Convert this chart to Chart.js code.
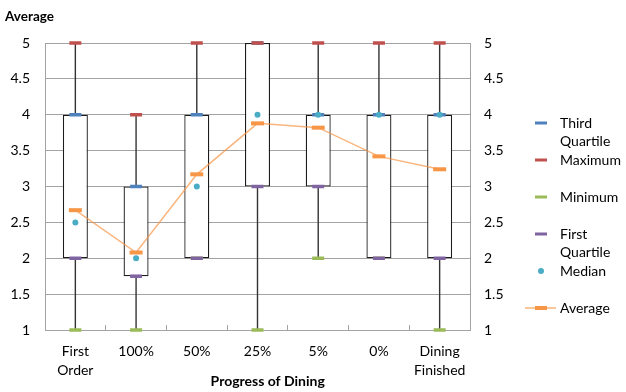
<!DOCTYPE html>
<html>
<head>
<meta charset="utf-8">
<script src="https://cdn.jsdelivr.net/npm/chart.js@4"></script>
<style>
  html, body { margin: 0; padding: 0; background: #fff; }
  #wrap { width: 626px; height: 392px; }
</style>
</head>
<body>
<div id="wrap"><canvas id="chart" width="626" height="392"></canvas></div>
<script>
// Stages of the meal and the rating summary for each stage
const categories = [['First', 'Order'], '100%', '50%', '25%', '5%', '0%', ['Dining', 'Finished']];
const thirdQuartile = [4, 3, 4, 5, 4, 4, 4];
const maximum = [5, 4, 5, 5, 5, 5, 5];
const minimum = [1, 1, 2, 1, 2, 2, 1];
const firstQuartile = [2, 1.75, 2, 3, 3, 2, 2];
const median = [2.5, 2, 3, 4, 4, 4, 4];
const average = [2.67, 2.08, 3.17, 3.88, 3.82, 3.42, 3.24];
const valueTicks = [1, 1.5, 2, 2.5, 3, 3.5, 4, 4.5, 5];

const FONT = 'Lato, "Open Sans", sans-serif';
const GRID = '#a3a3a3';
const COLORS = {
  q3: '#4F81BD', max: '#C0504D', min: '#9BBB59', q1: '#8064A2',
  median: '#4BACC6', average: '#F79646', averageLine: 'rgba(247,150,70,0.7)'
};

// Small legend swatches drawn on their own canvases
const ICON_W = 36, ICON_H = 10, ICON_CX = 21;
function icon(draw) {
  const c = document.createElement('canvas');
  c.width = ICON_W; c.height = ICON_H;
  draw(c.getContext('2d'));
  return c;
}
const dashIcon = color => icon(g => {
  g.fillStyle = color;
  g.fillRect(ICON_CX - 6, ICON_H / 2 - 1.5, 12, 3);
});
const dotIcon = color => icon(g => {
  g.fillStyle = color;
  g.beginPath(); g.arc(ICON_CX, ICON_H / 2, 3, 0, Math.PI * 2); g.fill();
});
const lineIcon = (lineColor, color) => icon(g => {
  g.strokeStyle = lineColor; g.lineWidth = 1.5;
  g.beginPath(); g.moveTo(5, ICON_H / 2); g.lineTo(ICON_W, ICON_H / 2); g.stroke();
  g.fillStyle = color;
  g.fillRect(ICON_CX - 6, ICON_H / 2 - 2, 12, 4);
});

const legendEntries = [
  { text: ['Third', 'Quartile'], icon: dashIcon(COLORS.q3) },
  { text: ['Maximum', ''], icon: dashIcon(COLORS.max) },
  { text: ['Minimum', ''], icon: dashIcon(COLORS.min) },
  { text: ['First', 'Quartile'], icon: dashIcon(COLORS.q1) },
  { text: ['Median', ''], icon: dotIcon(COLORS.median) },
  { text: ['Average', ''], icon: lineIcon(COLORS.averageLine, COLORS.average) }
];

function markerSeries(label, data, color, order) {
  return {
    type: 'line', label, data, order,
    clip: false,
    showLine: false,
    pointStyle: 'line',
    pointRadius: 6,
    pointBorderWidth: 3.5,
    pointBorderColor: color,
    pointBackgroundColor: color
  };
}

const tickFont = { family: FONT, size: 14, lineHeight: 1.38 };
const tickText = v => String(v);

new Chart(document.getElementById('chart'), {
  type: 'bar',
  data: {
    labels: categories,
    datasets: [
      // whisker from minimum to maximum
      {
        type: 'bar', label: 'Range',
        data: minimum.map((v, i) => [v, maximum[i]]),
        backgroundColor: '#333333',
        barThickness: 1.4,
        inflateAmount: 0,
        grouped: false,
        order: 20
      },
      // box from first to third quartile
      {
        type: 'bar', label: 'Box',
        data: firstQuartile.map((v, i) => [v, thirdQuartile[i]]),
        backgroundColor: '#ffffff',
        borderColor: '#1c1c1c',
        borderWidth: 1.3,
        borderSkipped: false,
        barThickness: 25,
        inflateAmount: 0,
        grouped: false,
        clip: false,
        order: 19
      },
      markerSeries('Third Quartile', thirdQuartile, COLORS.q3, 6),
      markerSeries('Maximum', maximum, COLORS.max, 5),
      markerSeries('Minimum', minimum, COLORS.min, 4),
      markerSeries('First Quartile', firstQuartile, COLORS.q1, 3),
      {
        type: 'line', label: 'Median', data: median, order: 2,
        clip: false,
        showLine: false,
        pointStyle: 'circle',
        pointRadius: 3,
        pointBorderWidth: 0,
        pointBackgroundColor: COLORS.median
      },
      {
        type: 'line', label: 'Average', data: average, order: 1,
        clip: false,
        borderColor: COLORS.averageLine,
        borderWidth: 1.5,
        tension: 0,
        pointStyle: 'line',
        pointRadius: 6.5,
        pointBorderWidth: 4,
        pointBorderColor: COLORS.average,
        pointBackgroundColor: COLORS.average
      }
    ]
  },
  options: {
    responsive: false,
    animation: false,
    events: [],
    layout: { padding: { left: 5, right: 0, top: 0, bottom: 0 } },
    plugins: {
      tooltip: { enabled: false },
      title: {
        display: true,
        text: 'Average',
        align: 'start',
        color: '#000',
        font: { family: FONT, size: 13.5, weight: 'bold', lineHeight: 1.2 },
        padding: { top: 9, bottom: 17.8 }
      },
      legend: {
        position: 'right',
        align: 'start',
        maxWidth: 104,
        title: { display: true, text: '', padding: { top: 114, bottom: 0 }, font: { size: 1, lineHeight: 1 } },
        labels: {
          usePointStyle: true,
          pointStyleWidth: 30,
          padding: 1,
          color: '#000',
          font: { family: FONT, size: 14, lineHeight: '18px' },
          generateLabels: () => legendEntries.map((e, i) => ({
            text: e.text,
            pointStyle: e.icon,
            fillStyle: 'transparent',
            strokeStyle: 'transparent',
            lineWidth: 0,
            hidden: false,
            fontColor: '#000',
            datasetIndex: i + 2
          }))
        }
      }
    },
    scales: {
      x: {
        offset: true,
        grid: { offset: true, drawOnChartArea: false, drawTicks: true, tickLength: -5, color: GRID },
        border: { color: GRID },
        ticks: { padding: 17, color: '#000', font: tickFont, maxRotation: 0, autoSkip: false },
        title: {
          display: true,
          text: '\u00a0\u00a0\u00a0\u00a0\u00a0\u00a0Progress of Dining',
          color: '#000',
          font: { family: FONT, size: 14, weight: 'bold', lineHeight: 1.2 },
          padding: { top: 0, bottom: 2.5 }
        },
        afterFit: s => { s.height = 62; }
      },
      y: {
        position: 'left',
        min: 1, max: 5,
        afterBuildTicks: s => { s.ticks = valueTicks.map(v => ({ value: v })); },
        grid: { color: GRID, drawTicks: false },
        border: { color: GRID },
        ticks: { padding: 15, color: '#000', font: tickFont, callback: tickText },
        afterFit: s => { s.width = 40; }
      },
      yRight: {
        position: 'right',
        min: 1, max: 5,
        afterBuildTicks: s => { s.ticks = valueTicks.map(v => ({ value: v })); },
        grid: { drawOnChartArea: false, drawTicks: false },
        border: { color: GRID },
        ticks: { padding: 14, color: '#000', font: tickFont, callback: tickText },
        afterFit: s => { s.width = 52; }
      }
    }
  }
});
</script>
</body>
</html>
